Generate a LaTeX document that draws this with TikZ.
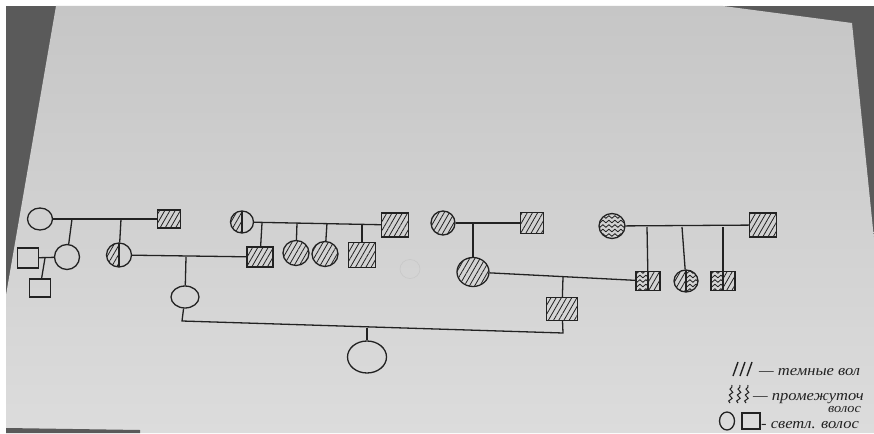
\documentclass[tikz,border=0pt]{standalone}
\usepackage{fontspec}
\setmainfont{Liberation Serif}
\newfontfamily\hand{Liberation Serif}[FakeStretch=1.1]
\usetikzlibrary{positioning,calc,shapes.geometric,patterns.meta,decorations.pathmorphing}
\definecolor{ink}{HTML}{222222}
\definecolor{paper}{HTML}{DCDCDC}
\definecolor{desk}{HTML}{5A5A5A}

% wavy lines, used inside a path picture
\newcommand{\wavelines}{%
  \foreach \k in {-4,...,4}
    \draw[ink, line width=0.8pt, decorate, decoration={snake, amplitude=1.3pt, segment length=6pt}]
      ([xshift=-4pt, yshift=\k*4.5pt]path picture bounding box.west) --
      ([xshift=4pt, yshift=\k*4.5pt]path picture bounding box.east);}

\tikzset{
  pen/.style={draw=ink, line width=1.3pt},
  female/.style={pen, ellipse, inner sep=0pt, minimum width=25pt, minimum height=23pt},
  male/.style={pen, rectangle, inner sep=0pt, minimum width=24pt, minimum height=20pt},
  hatched/.style={pattern={Lines[angle=60, distance=4.5pt, line width=0.8pt]}, pattern color=ink},
  halfhatch/.style={path picture={
      \fill[hatched] (path picture bounding box.south west) rectangle (path picture bounding box.north);
      \draw[pen] (path picture bounding box.south) -- (path picture bounding box.north);}},
  wavy/.style={path picture={\wavelines}},
  wavehatch/.style={path picture={
      \fill[hatched] (path picture bounding box.south) rectangle (path picture bounding box.north east);
      \begin{scope}
        \clip (path picture bounding box.south west) rectangle (path picture bounding box.north);
        \wavelines
      \end{scope}
      \draw[pen] (path picture bounding box.south) -- (path picture bounding box.north);}},
  hatchwave/.style={path picture={
      \fill[hatched] (path picture bounding box.south west) rectangle (path picture bounding box.north);
      \begin{scope}
        \clip (path picture bounding box.south) rectangle (path picture bounding box.north east);
        \wavelines
      \end{scope}
      \draw[pen] (path picture bounding box.south) -- (path picture bounding box.north);}},
  legend/.style={font=\hand\itshape\fontsize{15}{15}\selectfont, text=ink, inner sep=0pt, anchor=base west}
}

\begin{document}
\begin{tikzpicture}[x=1pt, y=-1pt]
  \useasboundingbox (0,0) rectangle (874,433);
  \clip (0,0) rectangle (874,433);

  % ======= photo background =======
  \fill[white] (0,0) rectangle (874,433);
  \fill[desk] (6,6) rectangle (874,433);
  \shade[top color=paper!90!black, bottom color=paper]
    (56,6) -- (723,6) -- (852,23) -- (874,239) -- (874,433) -- (6,433) -- (6,295) -- cycle;
  \fill[desk] (6,428) -- (140,430) -- (140,433) -- (6,433) -- cycle;

  % ======= generation I =======
  \node[female, minimum width=25pt, minimum height=22pt] (gm1) at (40,219) {};
  \node[male, hatched, minimum width=23pt, minimum height=18pt] (gf1) at (169,219) {};
  \node[female, halfhatch, minimum width=23pt, minimum height=22pt] (gm2) at (242,222) {};
  \node[male, hatched, minimum width=27pt, minimum height=24pt] (gf2) at (395,225) {};
  \node[female, hatched, minimum width=24pt, minimum height=24pt] (gm3) at (443,223) {};
  \node[male, hatched, minimum width=23pt, minimum height=21pt] (gf3) at (532,223) {};
  \node[female, wavy, minimum width=26pt, minimum height=25pt] (gm4) at (612,226) {};
  \node[male, hatched, minimum width=27pt, minimum height=24pt] (gf4) at (763,225) {};

  % ======= generation II =======
  \node[male, minimum width=21pt, minimum height=20pt] (sp1) at (28,258) {};
  \node[female, minimum width=25pt, minimum height=25pt] (d1) at (67,257) {};
  \node[male, minimum width=21pt, minimum height=18pt] (ch1) at (40,288) {};
  \node[female, halfhatch, minimum width=25pt, minimum height=24pt] (d2) at (119,255) {};
  \node[male, hatched, minimum width=26pt, minimum height=20pt] (s2) at (260,257) {};
  \node[female, hatched, minimum width=26pt, minimum height=25pt] (c2) at (296,253) {};
  \node[female, hatched, minimum width=26pt, minimum height=25pt] (c3) at (325,254) {};
  \node[male, hatched, minimum width=27pt, minimum height=25pt] (c4) at (362,255) {};
  \node[female, draw=ink!25, line width=0.6pt, minimum width=20pt, minimum height=19pt] (ghost) at (410,269) {};
  \node[female, hatched, minimum width=32pt, minimum height=29pt] (d3) at (473,272) {};
  \node[male, wavehatch, minimum width=24pt, minimum height=19pt] (k1) at (648,281) {};
  \node[female, hatchwave, minimum width=24pt, minimum height=22pt] (k2) at (686,281) {};
  \node[male, wavehatch, minimum width=24pt, minimum height=19pt] (k3) at (723,281) {};

  % ======= generation III and IV =======
  \node[female, minimum width=28pt, minimum height=22pt] (p1) at (185,297) {};
  \node[male, hatched, minimum width=31pt, minimum height=23pt] (p2) at (562,309) {};
  \node[female, minimum width=39pt, minimum height=32pt] (prob) at (367,357) {};

  % ======= marriage lines =======
  \draw[pen] (gm1) -- (gf1);
  \draw[pen] (gm2) -- (gf2);
  \draw[pen] (gm3) -- (gf3);
  \draw[pen] (gm4) -- (gf4);
  \draw[pen] (sp1) -- (d1);
  \draw[pen] (d2) -- (s2);
  \draw[pen] (d3) -- (k1);

  % ======= descent lines =======
  \coordinate (j1) at (72,219);
  \coordinate (j2) at (121,219);
  \draw[pen] (j1) -- (d1);
  \draw[pen] (j2) -- (d2);
  \coordinate (j3) at (45,258);
  \draw[pen] (j3) -- (ch1);
  \coordinate (j4) at (186,257);
  \draw[pen] (j4) -- (p1);
  \foreach \c/\x/\y in {s2/262/223, c2/297/223, c3/327/223, c4/362/224} {
    \coordinate (j\c) at (\x,\y);
    \draw[pen] (j\c) -- (\c);
  }
  \coordinate (j5) at (473,224);
  \draw[pen] (j5) -- (d3);
  \coordinate (j6) at (563,277);
  \draw[pen] (j6) -- (p2);
  \foreach \c/\x in {k1/647, k2/682, k3/723} {
    \coordinate (j\c) at (\x,227);
    \draw[pen] (j\c) -- (\c);
  }

  % ======= last couple =======
  \coordinate (b1) at (182,321);
  \coordinate (b2) at (563,333);
  \draw[pen] (p1) -- (b1) -- (b2) -- (p2);
  \coordinate (j7) at (367,328);
  \draw[pen] (j7) -- (prob);

  % ======= legend =======
  \foreach \x in {733,740,747} {
    \draw[pen, line width=1.4pt] (\x,376) -- (\x+5,362);
  }
  \node[legend] (lg1) at (759,375) {— темные вол};
  \foreach \x in {730,738,746} {
    \draw[ink, line width=1pt, decorate, decoration={snake, amplitude=1.6pt, segment length=6pt}] (\x,403) -- (\x+2,385);
  }
  \node[legend] (lg2) at (753,400) {— промежуточ};
  \node[legend, font=\hand\itshape\fontsize{13}{13}\selectfont] (lg3) at (828,412) {волос};
  \node[female, minimum width=15pt, minimum height=18pt] (lgc) at (727,421) {};
  \node[male, minimum width=18pt, minimum height=16pt] (lgs) at (751,421) {};
  \node[legend] (lg4) at (761,428) {- светл. волос};
\end{tikzpicture}
\end{document}
